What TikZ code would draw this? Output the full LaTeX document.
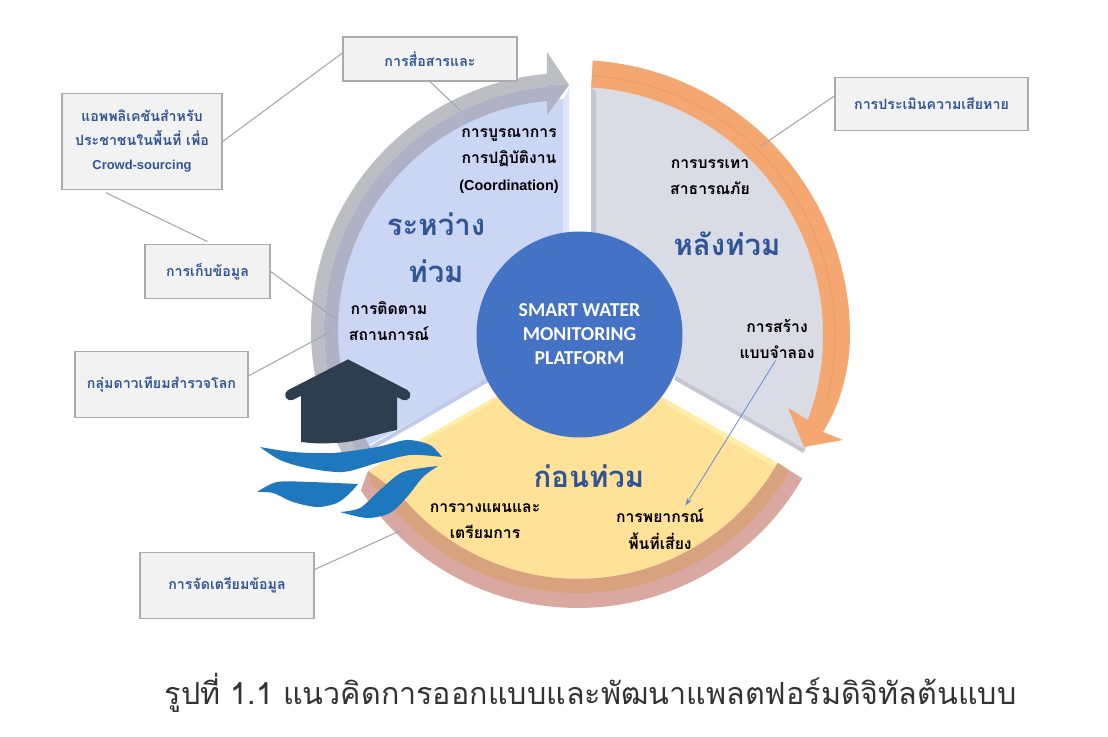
\documentclass[tikz,border=0pt]{standalone}
\usepackage{fontspec}
\setmainfont{Liberation Sans}
\setsansfont{Carlito}
\newfontfamily\thaifont[Script=Thai]{Loma}
\usetikzlibrary{arrows.meta}
\definecolor{boxfill}{HTML}{F2F2F2}
\definecolor{boxline}{HTML}{ABABAB}
\definecolor{linkgrey}{HTML}{A6A6A6}
\definecolor{labelblue}{HTML}{2F5597}
\definecolor{blueface}{HTML}{CBD6F5}
\definecolor{bluebevelA}{HTML}{DDE7FC}
\definecolor{bluebevelB}{HTML}{C0CBEA}
\definecolor{greyA}{HTML}{BDBDC4}
\definecolor{greyB}{HTML}{AEB2C4}
\definecolor{greyface}{HTML}{D9DBE5}
\definecolor{greybevel}{HTML}{C4C6D2}
\definecolor{orangeband}{HTML}{F4A771}
\definecolor{orangeline}{HTML}{E9995F}
\definecolor{yellowface}{HTML}{FFE198}
\definecolor{yellowbevel}{HTML}{FFEDA8}
\definecolor{roseA}{HTML}{D9A9A1}
\definecolor{roseB}{HTML}{D8A27E}
\definecolor{hub}{HTML}{4472C4}
\definecolor{house}{HTML}{2C3E50}
\definecolor{wave}{HTML}{1F78BE}
\definecolor{captiontext}{HTML}{333333}
\tikzset{
  arcset/.style={samples=60,smooth},
  callout/.style={draw=boxline,fill=boxfill,line width=0.9pt,minimum width=#1,inner sep=0pt,align=center,text=labelblue,font=\thaifont\bfseries\fontsize{10.65}{18}\selectfont},
  linkline/.style={draw=linkgrey,line width=0.8pt},
  blacklabel/.style={align=center,text=black,inner sep=0pt,font=\thaifont\bfseries\fontsize{11.8}{20}\selectfont},
  phase/.style={align=center,text=labelblue,inner sep=0pt,font=\thaifont\bfseries\fontsize{22}{35}\selectfont},
}
\begin{document}
\begin{tikzpicture}[x=0.75pt,y=-0.75pt]
\useasboundingbox (0,0) rectangle (1108,737);

% ---- blue sector (during the flood)
\fill[blueface] (568,336) -- plot[arcset,domain=150:270] ({568+231*cos(\x)},{330+231*sin(\x)}) -- cycle;
\fill[bluebevelA] (569,88) -- (569,232) -- (563,235) -- (563,100) -- cycle;
\draw[bluebevelB,line width=3pt] (488,380) -- (369,449);
\fill[greyA] plot[arcset,domain=148:265.3] ({568+257*cos(\x)},{330+257*sin(\x)}) -- (547,52) -- (569,85) -- (547,85) -- plot[arcset,domain=265:148] ({568+244*cos(\x)},{330+244*sin(\x)}) -- cycle;
\fill[greyB] plot[arcset,domain=148:265.3] ({568+244*cos(\x)},{330+244*sin(\x)}) -- (547,85) -- (569,85) -- (547,115) -- (547,100) -- plot[arcset,domain=265:148] ({568+230*cos(\x)},{330+230*sin(\x)}) -- cycle;

% ---- grey sector (after the flood)
\fill[greyface] (591,329) -- (591,88) -- plot[arcset,domain=-86.3:17] ({575+248*cos(\x)},{335+248*sin(\x)}) -- (805,452) -- cycle;
\fill[greybevel] (591,88) -- (596,92) -- (596,240) -- (591,240) -- cycle;
\draw[greybevel,line width=3pt] (675,378) -- (804,451);
\fill[orangeband] plot[arcset,domain=-86.3:0] ({575+275*cos(\x)},{335+275*sin(\x)}) .. controls (850,370) and (840,405) .. (823,432) -- (843,440) -- (804,447) -- (788,408) -- (808,420) -- plot[arcset,domain=15:-86.3] ({575+248*cos(\x)},{335+248*sin(\x)}) -- cycle;
\draw[orangeline,line width=0.7pt,opacity=.7] plot[arcset,domain=-86:15] ({575+260*cos(\x)},{335+260*sin(\x)});

% ---- yellow sector (before the flood)
\fill[yellowface] (578,349) -- (368,471) -- plot[arcset,domain=141:30] ({578+230*cos(\x)},{349+230*sin(\x)}) -- cycle;
\draw[yellowbevel,line width=4pt] (664,401) -- (776,465);
\draw[yellowbevel,line width=3pt] (492,401) -- (420,442);
\fill[roseA] (368,471) -- (361,490) -- plot[arcset,domain=147:30] ({578+259*cos(\x)},{349+259*sin(\x)}) -- (778,463) -- plot[arcset,domain=30:141] ({578+230*cos(\x)},{349+230*sin(\x)}) -- cycle;
\fill[roseB] (368,471) -- (372,486) -- plot[arcset,domain=145:30] ({578+244*cos(\x)},{349+244*sin(\x)}) -- (778,463) -- plot[arcset,domain=30:141] ({578+230*cos(\x)},{349+230*sin(\x)}) -- cycle;

% ---- callouts
\node[callout=130.5pt,minimum height=33pt] (comm) at (430,59) {การสื่อสารและ};
\node[callout=120pt,minimum height=72pt] (app) at (142,141.5) {แอพพลิเคชันสำหรับ\\ประชาชนในพื้นที่ เพื่อ\\{\rmfamily\fontsize{9.7}{18}\selectfont Crowd-sourcing}};
\node[callout=93.75pt,minimum height=41pt] (collect) at (207.5,271.5) {การเก็บข้อมูล};
\node[callout=129.75pt,minimum height=50pt] (sat) at (161.5,384.5) {กลุ่มดาวเทียมสำรวจโลก};
\node[callout=130.5pt,minimum height=50pt] (prep) at (227,585.5) {การจัดเตรียมข้อมูล};
\node[callout=144.75pt,minimum height=40pt] (assess) at (931.5,104) {การประเมินความเสียหาย};

% ---- free ends of the callout leaders
\coordinate (endcomm) at (461,111);
\coordinate (endcollect) at (337,320);
\coordinate (endsat) at (330,332);
\coordinate (endprep) at (402,530);
\coordinate (endassess) at (761,146);

\draw[linkline] ([yshift=4.5pt]comm.west) -- (app.east);
\draw[linkline] (comm.south) -- (endcomm);
\draw[linkline] ([xshift=-27pt,yshift=-2pt]app.south) -- ([yshift=1.5pt]collect.north);
\draw[linkline] (collect.east) -- (endcollect);
\draw[linkline] ([yshift=6.5pt]sat.east) -- (endsat);
\draw[linkline] ([yshift=12pt]prep.east) -- (endprep);
\draw[linkline] ([yshift=6pt]assess.west) -- (endassess);

% ---- hub
\node[circle,fill=hub,minimum size=154.5pt,inner sep=0pt,align=center,text=white,font=\sffamily\bfseries\fontsize{14.8}{18}\selectfont] (hubnode) at (579.5,334.5) {SMART WATER\\MONITORING\\PLATFORM};

% ---- house
\fill[house] (301,385) -- (348,362) -- (397,385) -- (397,430) .. controls (375,434) and (355,443) .. (333,443) .. controls (320,444) and (310,443) .. (301,442) -- cycle;
\draw[house,line width=8.2pt,line cap=round,line join=miter] (290.5,395) -- (348,365.5) -- (405,395);

% ---- waves
\fill[wave] plot[smooth] coordinates {(260,447) (293,452) (333,453) (377,447) (407,440) (430,445) (442,457)} -- plot[smooth] coordinates {(442,457) (410,455) (377,463) (343,472) (307,468) (280,460) (260,447)} -- cycle;
\fill[wave] plot[smooth] coordinates {(257,492) (277,482) (310,482) (358,484)} -- plot[smooth] coordinates {(358,484) (350,493) (337,503) (317,507) (293,502) (273,493) (257,492)} -- cycle;
\fill[wave] plot[smooth] coordinates {(340,512) (360,508) (380,490) (403,472) (438,466)} -- plot[smooth] coordinates {(438,466) (423,477) (407,497) (390,513) (367,518) (340,512)} -- cycle;

% ---- labels
\node[blacklabel] (coord) at (509,161) {การบูรณาการ\\การปฏิบัติงาน\\{\rmfamily\fontsize{10.8}{20}\selectfont (Coordination)}};
\node[phase] (during) at (436,248) {ระหว่าง\\ท่วม};
\node[blacklabel] (monitor) at (389,321) {การติดตาม\\สถานการณ์};
\node[blacklabel] (relief) at (710,177) {การบรรเทา\\สาธารณภัย};
\node[phase] (after) at (727,244) {หลังท่วม};
\node[blacklabel] (model) at (777,339) {การสร้าง\\แบบจำลอง};
\node[phase] (before) at (589,476) {ก่อนท่วม};
\node[blacklabel] (plan) at (485,521) {การวางแผนและ\\เตรียมการ};
\node[blacklabel] (forecast) at (660,529) {การพยากรณ์\\พื้นที่เสี่ยง};
\draw[-{Stealth[length=6pt,width=4pt]},draw=hub!80,fill=hub!80,line width=0.6pt] ([xshift=-1pt,yshift=-1pt]model.south) -- ([xshift=19pt,yshift=2pt]forecast.north);

% ---- caption
\node[inner sep=0pt,text=captiontext,font=\thaifont\fontsize{22.85}{25}\selectfont] (caption) at (590.5,693) {รูปที่ 1.1 แนวคิดการออกแบบและพัฒนาแพลตฟอร์มดิจิทัลต้นแบบ};
\end{tikzpicture}
\end{document}
